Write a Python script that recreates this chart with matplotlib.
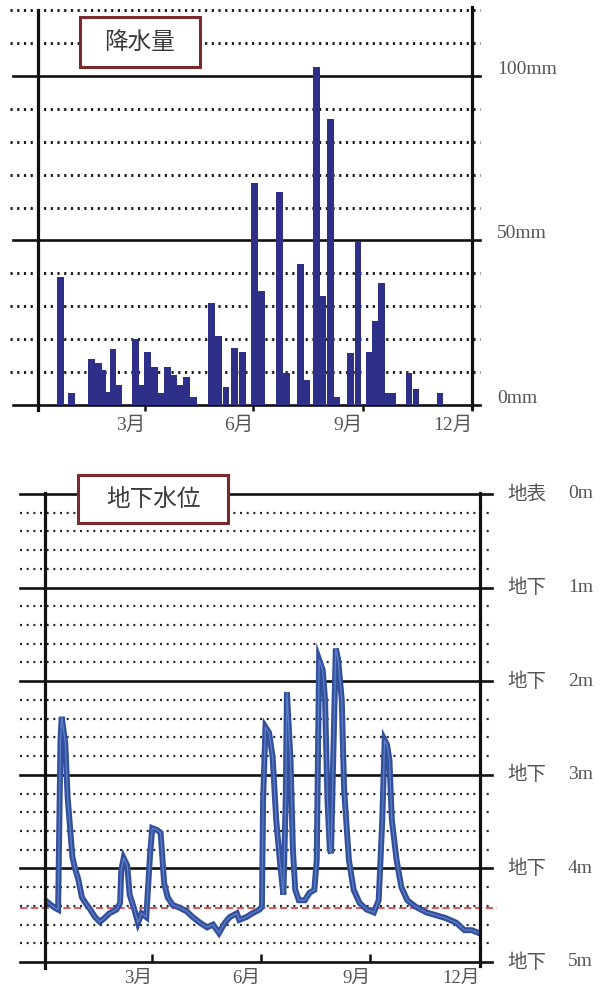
import matplotlib
matplotlib.use('Agg')
import matplotlib.pyplot as plt
from matplotlib.patches import Rectangle

plt.rcParams['font.family'] = ['Liberation Serif', 'Noto Sans CJK JP']

W, H = 603, 991

# rainfall (day of year, mm)
rain_day = [19, 28, 45, 51, 54, 59, 63, 68, 82, 87, 92, 98, 103, 109, 114, 120, 125, 131,
            146, 152, 158, 165, 172, 182, 188, 203, 209, 221, 226, 234, 239, 246, 251,
            263, 269, 279, 284, 289, 294, 298, 312, 318, 338]
rain_mm = [39, 3.5, 14, 12.8, 10.5, 4, 17, 6, 20, 6, 16, 11.5, 3.5, 11.5, 9, 6, 8.5, 2.5,
           31, 21, 5.5, 17.4, 16, 67.5, 34.5, 64.6, 9.8, 42.7, 7.6, 102.7, 33, 87, 2.5,
           15.8, 49.4, 16.2, 25.5, 37.2, 3.6, 3.6, 9.6, 4.8, 3.6]

# groundwater depth (day of year, m below surface)
level_day = [2, 8, 11, 13, 14, 17, 19, 23, 25, 28, 31, 34, 38, 42, 46, 50, 54, 60, 63, 64,
             66, 69, 71, 75, 78, 81, 85, 88, 90, 94, 97, 100, 103, 107, 113, 119, 124, 130,
             136, 141, 146, 151, 155, 161, 163, 169, 174, 180, 182, 183, 185, 188, 191, 194,
             197, 200, 202, 203, 206, 208, 210, 213, 218, 222, 226, 228, 230, 233, 235, 237,
             239, 240, 242, 244, 246, 249, 251, 255, 259, 264, 270, 276, 280, 283, 285, 287,
             289, 291, 295, 299, 304, 311, 320, 328, 336, 345, 352, 358, 364]
level_m = [4.36, 4.42, 4.44, 2.63, 2.38, 2.66, 3.24, 3.88, 3.99, 4.12, 4.31, 4.37, 4.44,
           4.52, 4.57, 4.53, 4.48, 4.44, 4.37, 4.02, 3.89, 3.97, 4.28, 4.44, 4.58, 4.48,
           4.52, 3.88, 3.57, 3.59, 3.62, 4.16, 4.31, 4.39, 4.42, 4.46, 4.52, 4.58, 4.63,
           4.60, 4.69, 4.58, 4.52, 4.48, 4.55, 4.52, 4.48, 4.44, 4.41, 3.27, 2.49, 2.55,
           2.81, 3.48, 3.91, 4.28, 3.27, 2.12, 2.84, 3.80, 4.23, 4.34, 4.34, 4.26, 4.23,
           3.91, 1.77, 1.88, 2.20, 3.27, 3.80, 3.84, 2.74, 1.65, 1.77, 2.20, 3.16, 3.91,
           4.23, 4.37, 4.44, 4.47, 4.34, 3.48, 2.63, 2.68, 2.84, 3.48, 3.91, 4.20, 4.34,
           4.41, 4.47, 4.50, 4.53, 4.58, 4.66, 4.66, 4.69]
ref_level = 4.42

month_ticks = [90, 181, 273, 365]
month_labels = ['3月', '6月', '9月', '12月']
rain_ticks = [100, 50, 0]
rain_labels = ['100mm', '50mm', '0mm']
level_ticks = [0, 1, 2, 3, 4, 5]
level_kanji = ['地表', '地下', '地下', '地下', '地下', '地下']
level_labels = ['0m', '1m', '2m', '3m', '4m', '5m']

fig = plt.figure(figsize=(W / 100, H / 100), dpi=100)
txt = '#555555'

# ---------- rainfall ----------
ax1 = fig.add_axes([38 / W, 1 - 405 / H, 434 / W, 395 / H])
ax1.set_xlim(0, 365)
ax1.set_ylim(0, 120)
for s in ax1.spines.values():
    s.set_visible(False)
ax1.set_yticks([])
for v in range(0, 121, 10):
    if v % 50 == 0:
        ax1.axhline(v, xmin=-0.058, xmax=1.018, color='#111111', lw=1.9, clip_on=False, zorder=1)
    else:
        ax1.axhline(v, xmin=-0.064, xmax=1.018, color='#1a1a1a', lw=2.1,
                    ls=(0, (0.75, 1.55)), clip_on=False, zorder=1)
ax1.axvline(0, ymin=-0.013, ymax=1.0, color='#111111', lw=2.3, clip_on=False, zorder=4)
ax1.axvline(365, ymin=-0.008, ymax=1.008, color='#111111', lw=2.3, clip_on=False, zorder=4)
ax1.bar(rain_day, rain_mm, width=5.6, color='#2d2f88', lw=0, zorder=3)
ax1.set_xticks(month_ticks, month_labels)
ax1.tick_params(axis='x', direction='out', length=4.5, width=1.8, color='#111111',
                pad=4, labelsize=14, labelcolor=txt)
for lab in ax1.get_xticklabels():
    lab.set_ha('right')
for v, s in zip(rain_ticks, rain_labels):
    ax1.text(1.058, v + 2, s, transform=ax1.get_yaxis_transform(), ha='left', va='center',
             fontsize=14, color=txt)

# ---------- groundwater ----------
ax2 = fig.add_axes([45 / W, 1 - 962 / H, 435 / W, 468 / H])
ax2.set_xlim(0, 365)
ax2.set_ylim(5, 0)
for s in ax2.spines.values():
    s.set_visible(False)
ax2.set_yticks([])
for i in range(26):
    v = i * 0.2
    if i % 5 == 0:
        ax2.axhline(v, xmin=-0.0575, xmax=1.028, color='#111111', lw=1.9, clip_on=False, zorder=1)
    else:
        ax2.axhline(v, xmin=-0.0575, xmax=1.025, color='#262626', lw=1.6,
                    ls=(0, (0.9, 2.1)), clip_on=False, zorder=1)
ax2.axvline(0, ymin=-0.013, ymax=1.002, color='#111111', lw=2.3, clip_on=False, zorder=4)
ax2.axvline(365, ymin=-0.008, ymax=1.002, color='#111111', lw=2.3, clip_on=False, zorder=4)
ax2.axhline(ref_level, xmin=-0.057, xmax=1.04, color='#e04848', lw=1.3,
            ls=(0, (4, 2)), clip_on=False, zorder=2)
ax2.plot(level_day, level_m, color='#33509c', lw=4.3, zorder=3, solid_joinstyle='miter')
ax2.plot(level_day, level_m, color='#5f7fc8', lw=0.9, zorder=3)
ax2.set_xticks(month_ticks, month_labels)
ax2.tick_params(axis='x', direction='in', length=6, width=1.8, color='#111111',
                pad=6, labelsize=13.5, labelcolor=txt)
for lab in ax2.get_xticklabels():
    lab.set_ha('right')
for v, k, s in zip(level_ticks, level_kanji, level_labels):
    ax2.text(1.062, v, k, transform=ax2.get_yaxis_transform(), ha='left', va='center',
             fontsize=14, color=txt, family=['Noto Sans CJK JP'])
    ax2.text(1.202, v, s, transform=ax2.get_yaxis_transform(), ha='left', va='center',
             fontsize=14, color=txt)

# ---------- title boxes ----------
for (x0, y0, x1, y1, title) in [(80, 17, 200, 67, '降水量'), (78, 475, 228, 523, '地下水位')]:
    fig.add_artist(Rectangle((x0 / W, 1 - y1 / H), (x1 - x0) / W, (y1 - y0) / H,
                             transform=fig.transFigure, facecolor='white',
                             edgecolor='#7a2a2a', lw=2.2, zorder=10))
    fig.text((x0 + x1) / 2 / W, 1 - (y0 + y1) / 2 / H, title, ha='center', va='center',
             fontsize=17, color='#3a3a3a', family=['Noto Sans CJK JP'], zorder=11)

fig.savefig('out.png', dpi=100, facecolor='white')
